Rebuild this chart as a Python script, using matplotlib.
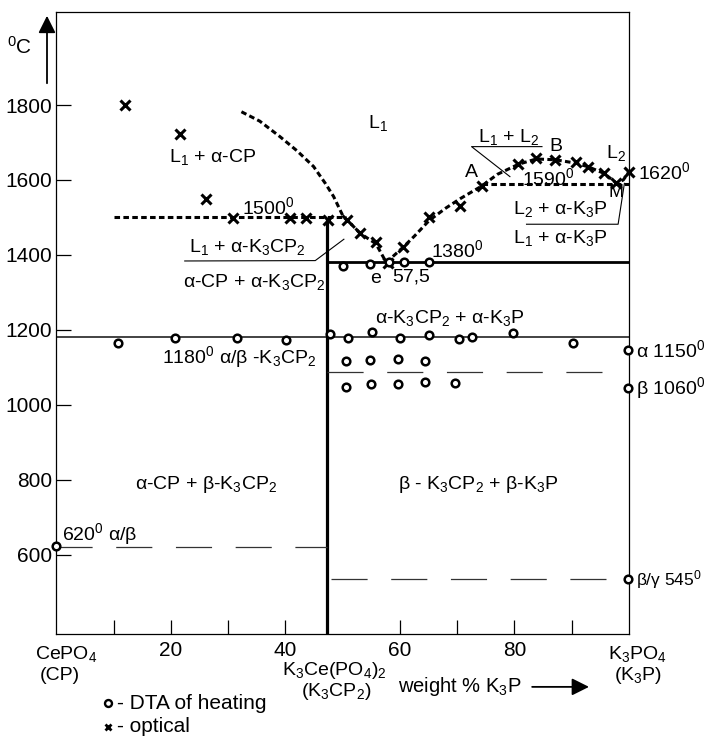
import matplotlib.pyplot as plt

plt.rcParams['font.family'] = ['Liberation Sans', 'DejaVu Sans']
plt.rcParams['mathtext.fontset'] = 'custom'
plt.rcParams['mathtext.rm'] = 'Liberation Sans'
plt.rcParams['mathtext.it'] = 'Liberation Sans'
plt.rcParams['mathtext.default'] = 'regular'
plt.rcParams['lines.scale_dashes'] = False
plt.rcParams['font.size'] = 14

# optical observations (x), weight % K3P / temperature
opt_x = [11.9, 21.5, 26.1, 30.9, 40.7, 43.6, 47.5, 50.7, 53.0, 55.8, 57.9,
         60.5, 65.1, 70.5, 74.3, 80.7, 83.8, 87.1, 90.7, 92.9, 95.6, 97.8, 100.0]
opt_t = [1800, 1724, 1549, 1498, 1498, 1498, 1493, 1493, 1458, 1435, 1379,
         1420, 1500, 1531, 1584, 1642, 1658, 1653, 1647, 1635, 1618, 1592, 1622]

# DTA of heating (o)
dta_x = [0.0, 10.7, 20.7, 31.6, 40.1, 47.7, 50.9, 55.1, 60.0, 65.0, 70.3, 72.6,
         79.8, 90.2, 99.9, 99.9, 99.9,
         50.6, 54.8, 59.6, 64.4,
         50.6, 54.9, 59.6, 64.4, 69.6,
         50.0, 54.8, 58.1, 60.7, 65.1]
dta_t = [624, 1166, 1178, 1178, 1173, 1189, 1179, 1195, 1179, 1187, 1175, 1182,
         1191, 1164, 1147, 1045, 535,
         1117, 1120, 1123, 1117,
         1047, 1056, 1055, 1062, 1058,
         1371, 1376, 1380, 1380, 1380]

# liquidus curves (dashed)
liq1_x = [32.3, 35.5, 39.0, 42.0, 44.9, 47.0, 48.4, 50.1, 51.5, 53.0, 55.8, 57.6]
liq1_t = [1782, 1757, 1716, 1678, 1636, 1590, 1556, 1502, 1482, 1458, 1430, 1380]
liq2_x = [57.6, 60.5, 62.5, 65.1, 68.0, 70.5, 72.5, 74.3, 77.0, 80.7, 83.8,
          87.1, 90.7, 92.9, 95.6, 97.8, 99.0, 100.0]
liq2_t = [1380, 1420, 1450, 1492, 1525, 1550, 1568, 1584, 1615, 1642, 1656,
          1654, 1645, 1635, 1618, 1592, 1600, 1622]
eut1500_x = [10.0, 50.5]
eut1500_t = [1500, 1500]
mono1590_x = [74.3, 100.0]
mono1590_t = [1588, 1588]

# solid boundaries
eut1380_x = [47.3, 100.0]
eut1380_t = [1380, 1380]
tr1180_x = [0.0, 100.0]
tr1180_t = [1180, 1180]
comp_x = [47.3, 47.3]
comp_t = [389, 1494]

# long-dash transition lines
tr1089_x = [47.3, 97.9]
tr1089_t = [1089, 1089]
tr620_x = [0.0, 47.3]
tr620_t = [622, 622]
tr545_x = [48.0, 100.0]
tr545_t = [535, 535]

# leader lines for labels
lead1_x = [22.4, 45.2, 50.2]
lead1_t = [1384, 1385, 1442]
lead2_x = [84.8, 72.5, 79.2]
lead2_t = [1689, 1689, 1609]
lead3_x = [82.1, 98.1, 99.2]
lead3_t = [1482, 1482, 1591]

fig = plt.figure(figsize=(7.08, 7.38), dpi=100)
ax = fig.add_axes([0.0798, 0.1409, 0.8086, 0.8428])
ax.set_xlim(0, 100)
ax.set_ylim(389, 2048)

dash = (0, (4, 2.4))
longdash = (0, (26, 17))
ax.plot(liq1_x, liq1_t, color='black', lw=2.2, ls=dash)
ax.plot(liq2_x, liq2_t, color='black', lw=2.2, ls=dash)
ax.plot(eut1500_x, eut1500_t, color='black', lw=2.2, ls=dash)
ax.plot(mono1590_x, mono1590_t, color='black', lw=2.2, ls=dash)

ax.plot(eut1380_x, eut1380_t, color='black', lw=2.0)
ax.plot(tr1180_x, tr1180_t, color='#222222', lw=1.2)
ax.plot(comp_x, comp_t, color='black', lw=2.3)

for xs, ts in [(tr1089_x, tr1089_t), (tr620_x, tr620_t), (tr545_x, tr545_t)]:
    ax.plot(xs, ts, color='#333333', lw=0.9, ls=longdash)

for xs, ts in [(lead1_x, lead1_t), (lead2_x, lead2_t), (lead3_x, lead3_t)]:
    ax.plot(xs, ts, color='black', lw=0.8)

ax.plot(opt_x, opt_t, ls='none', marker='x', ms=6.5, mew=2.2, color='black',
        clip_on=False, zorder=5)
ax.plot(dta_x, dta_t, ls='none', marker='o', ms=5.5, mew=1.8, mec='black',
        mfc='white', clip_on=False, zorder=6)

# ticks
ax.set_yticks([600, 800, 1000, 1200, 1400, 1600, 1800])
ax.set_xticks([10, 20, 30, 40, 60, 70, 80, 90])
ax.set_xticklabels(['', '20', '', '40', '60', '', '80', ''])
ax.tick_params(axis='y', direction='in', length=11, width=0.9, pad=3,
               labelsize=15)
ax.tick_params(axis='x', direction='in', length=10, width=0.9, pad=5,
               labelsize=15)
for s in ax.spines.values():
    s.set_linewidth(0.9)

# region labels
ax.text(56.2, 1752, 'L$_1$', ha='center', va='center')
ax.text(27.3, 1661, 'L$_1$ + α-CP', ha='center', va='center')
ax.text(37.0, 1527, '1500$^0$', ha='center', va='center')
ax.text(33.3, 1422, 'L$_1$ + α-K$_3$CP$_2$', ha='center', va='center')
ax.text(47.0, 1329, 'α-CP + α-K$_3$CP$_2$', ha='right', va='center')
ax.text(18.4, 1127, '1180$^0$ α/β -K$_3$CP$_2$', ha='left', va='center')
ax.text(55.8, 1338, 'e', ha='center', va='center')
ax.text(62.0, 1342, '57,5', ha='center', va='center')
ax.text(70.0, 1414, '1380$^0$', ha='center', va='center')
ax.text(88.0, 1444, 'L$_1$ + α-K$_3$P', ha='center', va='center')
ax.text(88.0, 1522, 'L$_2$ + α-K$_3$P', ha='center', va='center')
ax.text(97.8, 1566, 'M', ha='center', va='center', fontsize=13)
ax.text(85.9, 1604, '1590$^0$', ha='center', va='center')
ax.text(79.0, 1714, 'L$_1$ + L$_2$', ha='center', va='center')
ax.text(87.2, 1689, 'B', ha='center', va='center')
ax.text(72.5, 1619, 'A', ha='center', va='center')
ax.text(97.8, 1673, 'L$_2$', ha='center', va='center')
ax.text(68.7, 1233, 'α-K$_3$CP$_2$ + α-K$_3$P', ha='center', va='center')
ax.text(26.2, 787, 'α-CP + β-K$_3$CP$_2$', ha='center', va='center')
ax.text(73.6, 789, 'β - K$_3$CP$_2$ + β-K$_3$P', ha='center', va='center')
ax.text(0.9, 655, '620$^0$ α/β', ha='left', va='center')

# right-hand temperatures
ax.text(101.6, 1622, '1620$^0$', ha='left', va='center', clip_on=False)
ax.text(101.2, 1147, 'α 1150$^0$', ha='left', va='center', clip_on=False)
ax.text(101.2, 1045, 'β 1060$^0$', ha='left', va='center', clip_on=False)
ax.text(101.2, 533, 'β/γ 545$^0$', ha='left', va='center', fontsize=12.5,
        clip_on=False)

# composition labels under the axis
ax.text(1.7, 336, 'CePO$_4$', ha='center', va='center', clip_on=False)
ax.text(0.6, 279, '(CP)', ha='center', va='center', clip_on=False)
ax.text(48.6, 292, 'K$_3$Ce(PO$_4$)$_2$', ha='center', va='center', clip_on=False)
ax.text(48.8, 236, '(K$_3$CP$_2$)', ha='center', va='center', clip_on=False)
ax.text(101.4, 336, 'K$_3$PO$_4$', ha='center', va='center', clip_on=False)
ax.text(101.6, 279, '(K$_3$P)', ha='center', va='center', clip_on=False)
ax.text(70.5, 248, 'weight % K$_3$P', ha='center', va='center', fontsize=14.5,
        clip_on=False)
ax.annotate('', xy=(93.5, 248), xytext=(82.6, 248),
            arrowprops=dict(arrowstyle='-|>', color='black', lw=1.3,
                            mutation_scale=26), annotation_clip=False)

# legend
ax.plot([9.0], [205], ls='none', marker='o', ms=5, mew=1.7, mec='black',
        mfc='white', clip_on=False)
ax.text(10.6, 205, '- DTA of heating', ha='left', va='center', fontsize=15,
        clip_on=False)
ax.plot([9.0], [141], ls='none', marker='x', ms=5, mew=2.0, color='black',
        clip_on=False)
ax.text(10.6, 141, '- optical', ha='left', va='center', fontsize=15,
        clip_on=False)

# temperature axis arrow
ax.annotate('', xy=(47 / 708, 1 - 13 / 738), xytext=(47 / 708, 1 - 86 / 738),
            xycoords='figure fraction', textcoords='figure fraction',
            arrowprops=dict(arrowstyle='-|>', color='black', lw=1.3,
                            mutation_scale=26), annotation_clip=False)
fig.text(20 / 708, 1 - 47 / 738, '$^0$C', ha='center', va='center', fontsize=15)

fig.savefig('out.png', dpi=100)
